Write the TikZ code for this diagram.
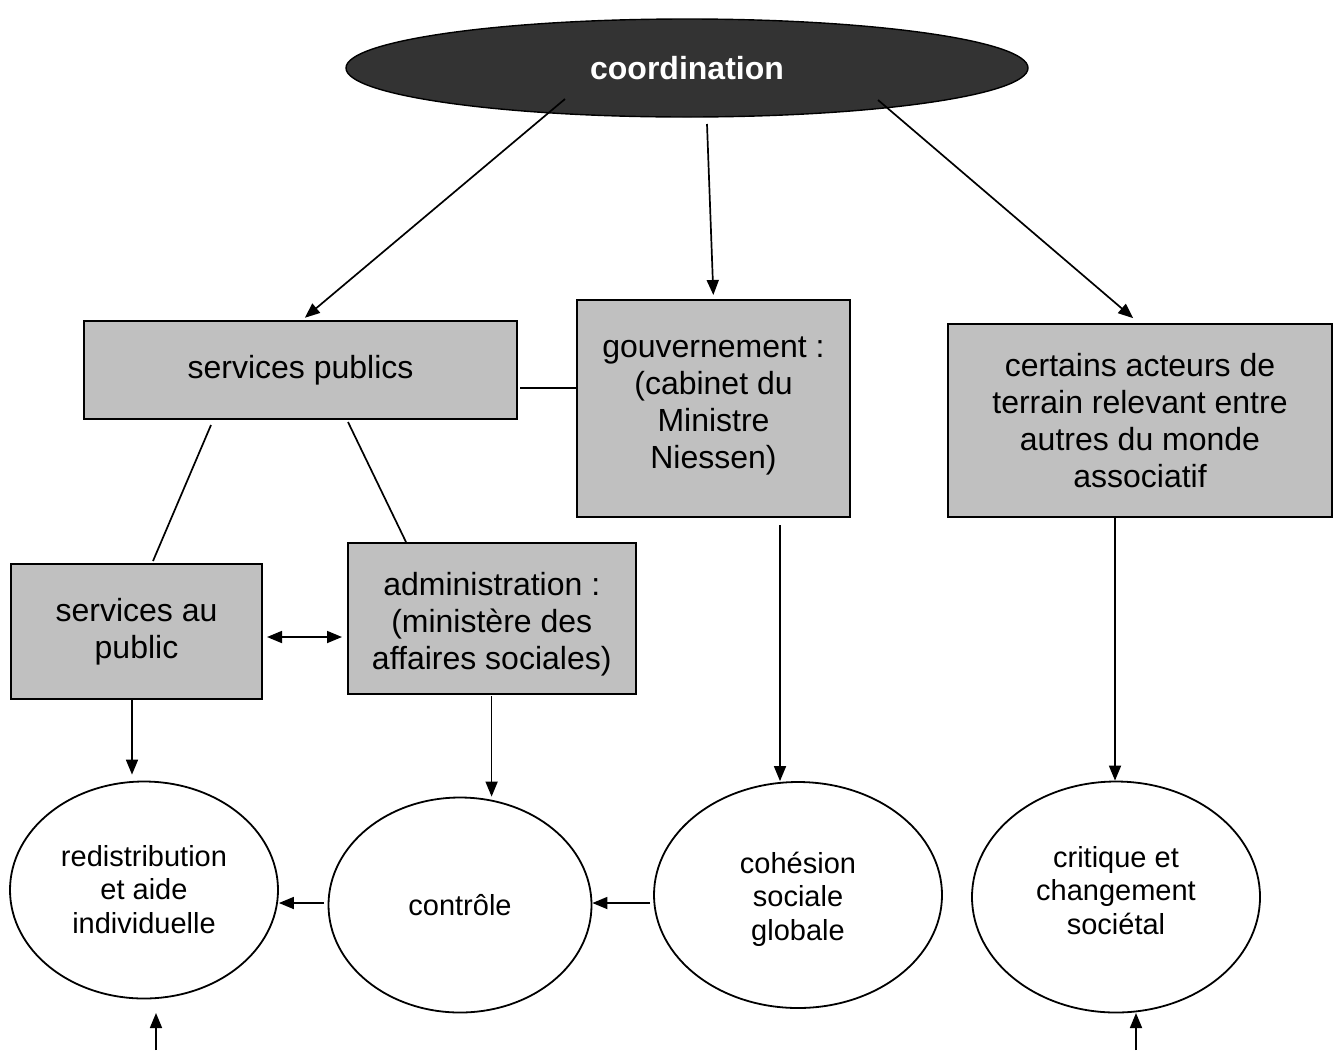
\documentclass[tikz,border=0pt]{standalone}
\usepackage{fontspec}
\setmainfont{Liberation Sans}
\usetikzlibrary{shapes.geometric,arrows.meta}
\definecolor{boxgray}{HTML}{C0C0C0}
\definecolor{hubgray}{HTML}{333333}
% centred lines, nudged vertically without changing the box they occupy
\newcommand\nudged[2]{\raisebox{#1}[\height][\depth]{\begin{tabular}{@{}c@{}}#2\end{tabular}}}
\begin{document}
\begin{tikzpicture}[x=1pt,y=-1pt,
  box/.style={draw=black, line width=2pt, fill=boxgray, inner sep=0pt, align=center,
    font=\fontsize{32}{37}\selectfont},
  oval/.style={ellipse, draw=black, line width=1.8pt, fill=white, inner sep=0pt, align=center,
    font=\fontsize{29}{33.5}\selectfont},
  link/.style={line width=1.7pt},
  arr/.style={line width=1.7pt, -{Triangle[length=15pt,width=12pt]}},
  darr/.style={line width=1.7pt, {Triangle[length=15pt,width=12pt]}-{Triangle[length=15pt,width=12pt]}},
]
\useasboundingbox (0,0) rectangle (1337,1050);

% top hub
\node[ellipse, draw=black, line width=1.4pt, fill=hubgray, minimum width=682pt, minimum height=98pt,
  inner sep=0pt, text=white, font=\fontsize{32}{37}\selectfont\bfseries] (coord) at (687,68) {coordination};

% boxes
\node[box, minimum width=433pt, minimum height=98pt] (pub) at (300.5,370) {services publics};
\node[box, minimum width=273pt, minimum height=217pt] (gouv) at (713.5,408.5)
  {\nudged{3pt}{gouvernement :\\(cabinet du\\Ministre\\Niessen)}};
\node[box, minimum width=384pt, minimum height=193pt] (cert) at (1140,420.5)
  {\nudged{-4pt}{certains acteurs de\\terrain relevant entre\\autres du monde\\associatif}};
\node[box, minimum width=251pt, minimum height=135pt] (spub) at (136.5,631.5) {services au\\public};
\node[box, minimum width=288pt, minimum height=151pt] (admin) at (491.75,618.5)
  {\nudged{-7pt}{administration :\\(ministère des\\affaires sociales)}};

% ovals
\node[oval, minimum width=268pt, minimum height=217pt] (red) at (144,890)
  {\nudged{-3pt}{redistribution\\et aide\\individuelle}};
\node[oval, minimum width=263pt, minimum height=215pt] (ctrl) at (460,905) {contrôle};
\node[oval, minimum width=288pt, minimum height=226pt] (coh) at (798,895)
  {\nudged{-5pt}{cohésion\\sociale\\globale}};
\node[oval, minimum width=288pt, minimum height=231pt] (crit) at (1116,897)
  {\nudged{3pt}{critique et\\changement\\sociétal}};

% free ends of connectors
\coordinate (h1) at (565,99);
\coordinate (h2) at (707,124);
\coordinate (h3) at (878,100);
\coordinate (pg) at (520,388);
\coordinate (l1a) at (211,425);
\coordinate (l1b) at (153,561);
\coordinate (l2a) at (348,422);
\coordinate (l2b) at (406,542);
\coordinate (d1) at (267,637);
\coordinate (d2) at (342,637);
\coordinate (s1) at (132,700);
\coordinate (s2) at (491.6,696);
\coordinate (g1) at (780,525);
\coordinate (c1) at (1115,517);
\coordinate (r1) at (324,903);
\coordinate (r2) at (650,903);
\coordinate (b1) at (156,1050);
\coordinate (b2) at (1136,1050);
\coordinate (pubtop) at (301,321);
\coordinate (certtop) at (1140,324);
\coordinate (e1) at (156,1013);
\coordinate (e2) at (1136,1013);

% from the hub
\draw[arr, shorten >=5pt] (h1) -- (pubtop);
\draw[arr, shorten >=4pt] (h2) -- (gouv.north);
\draw[arr, shorten >=9pt] (h3) -- (certtop);

% plain links
\draw[link] (pg) -- (pg -| gouv.west);
\draw[link] (l1a) -- (l1b);
\draw[link] (l2a) -- (l2b);

% two-way link
\draw[darr] (d1) -- (d2);

% downward arrows
\draw[arr, shorten >=6pt] (s1) -- (s1 |- red.north);
\draw[arr] (s2) -- (s2 |- ctrl.north);
\draw[arr] (g1) -- (g1 |- coh.north);
\draw[arr] (c1) -- (c1 |- crit.north);

% arrows between ovals
\draw[arr] (r1) -- (r1 -| red.east);
\draw[arr] (r2) -- (r2 -| ctrl.east);

% arrows from below
\draw[arr] (b1) -- (e1);
\draw[arr] (b2) -- (e2);
\end{tikzpicture}
\end{document}
